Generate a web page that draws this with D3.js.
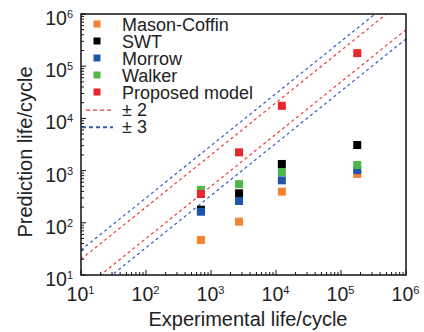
<!DOCTYPE html>
<html><head><meta charset="utf-8">
<script src="https://cdn.jsdelivr.net/npm/d3@7"></script>
<style>body{margin:0;background:#fff}svg{display:block}text{font-family:"Liberation Sans",Arial,sans-serif;fill:#222}</style>
</head><body><svg id="c" width="424" height="332"></svg>
<script>
const experimental = [700, 2700, 12300, 178000];
const series = ["Mason-Coffin", "SWT", "Morrow", "Walker", "Proposed model"];
const masonCoffin = [47, 105, 395, 860];
const swt = [178, 367, 1340, 3090];
const morrow = [163, 262, 650, 1020];
const walker = [427, 550, 940, 1280];
const proposed = [356, 2240, 17400, 178000];
const colors = ["#f5822e", "#000000", "#1f55a8", "#4db848", "#e8262b"];
const bandFactors = [2, 3];
const bandLabels = ["± 2", "± 3"];
const bandColors = ["#e83a3a", "#2f5fb8"];
const majorTicks = [1e1, 1e2, 1e3, 1e4, 1e5, 1e6];
const tickExps = ["1", "2", "3", "4", "5", "6"];

const svg = d3.select("#c");
const L = 81, R = 406, T = 14, B = 275;
const x = d3.scaleLog().domain([10, 1e6]).range([L, R]);
const y = d3.scaleLog().domain([10, 1e6]).range([B, T]);

const minor = [];
for (let d = 1; d < 6; d++) for (let m = 2; m <= 9; m++) minor.push(m * Math.pow(10, d));

svg.append("defs").append("clipPath").attr("id", "clip")
  .append("rect").attr("x", L).attr("y", T).attr("width", R - L).attr("height", B - T);

// reference band lines
const g = svg.append("g").attr("clip-path", "url(#clip)");
bandFactors.forEach((f, i) => {
  [f, 1 / f].forEach(k => {
    g.append("line")
      .attr("x1", x(10)).attr("y1", y(10 * k))
      .attr("x2", x(1e6)).attr("y2", y(1e6 * k))
      .attr("stroke", bandColors[i]).attr("stroke-width", 1.2)
      .attr("stroke-dasharray", "3,3");
  });
});

// points
const allVals = [masonCoffin, swt, morrow, walker, proposed];
allVals.forEach((vals, si) => {
  g.selectAll(null).data(vals).enter().append("rect")
    .attr("x", (d, i) => x(experimental[i]) - 4)
    .attr("y", d => y(d) - 4)
    .attr("width", 8).attr("height", 8)
    .attr("fill", colors[si]);
});

// frame
svg.append("rect").attr("x", L).attr("y", T).attr("width", R - L).attr("height", B - T)
  .attr("fill", "none").attr("stroke", "#111").attr("stroke-width", 1.5);

// ticks (inward, bottom and left)
const tk = svg.append("g").attr("stroke", "#111").attr("stroke-width", 1);
majorTicks.forEach(v => {
  tk.append("line").attr("x1", x(v)).attr("x2", x(v)).attr("y1", B).attr("y2", B - 5);
  tk.append("line").attr("y1", y(v)).attr("y2", y(v)).attr("x1", L).attr("x2", L + 5);
});
minor.forEach(v => {
  tk.append("line").attr("x1", x(v)).attr("x2", x(v)).attr("y1", B).attr("y2", B - 3);
  tk.append("line").attr("y1", y(v)).attr("y2", y(v)).attr("x1", L).attr("x2", L + 3);
});

// tick labels
majorTicks.forEach((v, i) => {
  const t = svg.append("text").attr("x", x(v) - 0.5).attr("y", 300.5)
    .attr("text-anchor", "middle").attr("font-size", 19.5);
  t.append("tspan").text("10");
  t.append("tspan").attr("font-size", 11).attr("dy", -7).text(tickExps[i]);
  const u = svg.append("text").attr("x", 73).attr("y", y(v) + 11)
    .attr("text-anchor", "end").attr("font-size", 19.5);
  u.append("tspan").text("10");
  u.append("tspan").attr("font-size", 11).attr("dy", -7).text(tickExps[i]);
});

// axis titles
svg.append("text").attr("x", 248).attr("y", 326).attr("text-anchor", "middle")
  .attr("font-size", 20).text("Experimental life/cycle");
svg.append("text").attr("transform", "translate(32,152) rotate(-90)")
  .attr("text-anchor", "middle").attr("font-size", 20).text("Prediction life/cycle");

// legend
const ly0 = 30.7, ldy = 17;
series.forEach((s, i) => {
  const yy = ly0 + i * ldy;
  svg.append("rect").attr("x", 93.5).attr("y", yy - 10.2).attr("width", 7).attr("height", 7).attr("fill", colors[i]);
  svg.append("text").attr("x", 122).attr("y", yy).attr("font-size", 18).text(s);
});
bandLabels.forEach((s, i) => {
  const yy = ly0 + (5 + i) * ldy + 0.5;
  svg.append("line").attr("x1", i === 0 ? 86 : 82).attr("x2", 113).attr("y1", yy - 6).attr("y2", yy - 6)
    .attr("stroke", bandColors[i]).attr("stroke-width", i === 0 ? 1.2 : 2).attr("stroke-dasharray", "4,3");
  svg.append("text").attr("x", 122).attr("y", yy).attr("font-size", 18).text(s);
});
</script></body></html>
